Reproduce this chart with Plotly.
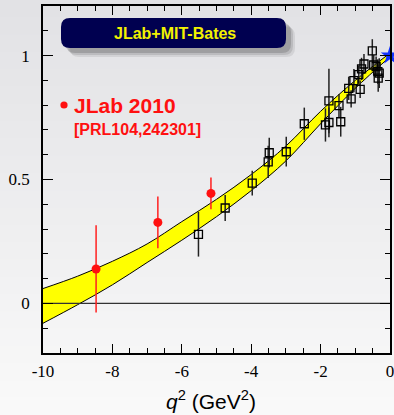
import plotly.graph_objects as go

# ---- data ----
band_q = [-10, -9, -8, -7, -6, -5, -4, -3, -2, -1, 0]
band_upper = [0.06, 0.11, 0.17, 0.24, 0.33, 0.42, 0.52, 0.635, 0.775, 0.90, 1.01]
band_lower = [-0.08, -0.005, 0.075, 0.165, 0.255, 0.35, 0.455, 0.575, 0.725, 0.868, 0.995]

jlab_q = [-8.47, -6.69, -5.16]
jlab_f = [0.139, 0.327, 0.444]
jlab_err = [0.176, 0.104, 0.064]

world_q = [-5.52, -4.75, -3.97, -3.51, -3.48, -2.99, -2.47, -1.86, -1.76, -1.76,
           -1.47, -1.42, -1.19, -1.12, -1.04, -0.90, -0.86, -0.82, -0.75, -0.51,
           -0.47, -0.40, -0.35, -0.34, -0.31]
world_f = [0.279, 0.385, 0.485, 0.571, 0.608, 0.612, 0.725, 0.720, 0.730, 0.817,
           0.798, 0.733, 0.868, 0.825, 0.899, 0.923, 0.864, 0.946, 0.966, 1.019,
           0.962, 0.956, 0.935, 0.909, 0.929]
world_err = [0.09, 0.052, 0.05, 0.065, 0.06, 0.06, 0.065, 0.067, 0.06, 0.13,
             0.047, 0.06, 0.047, 0.035, 0.047, 0.037, 0.035, 0.045, 0.04, 0.047,
             0.04, 0.04, 0.05, 0.055, 0.06]

norm_q = [0]
norm_f = [1.0]

x_ticks = [-10, -8, -6, -4, -2, 0]
x_tick_labels = ["-10", "-8", "-6", "-4", "-2", "0"]
y_ticks = [0, 0.5, 1]
y_tick_labels = ["0", "0.5", "1"]

fig = go.Figure()

# background gradient (paper coordinates, behind everything)
W, H = 394, 415
L, R, T, B = 43, 4, 6, 62
pw, ph = W - L - R, H - T - B
nb = 24
top_c = (226, 226, 229)
bot_c = (249, 249, 249)
for i in range(nb):
    f = i / (nb - 1)
    c = tuple(int(round(top_c[k] + (bot_c[k] - top_c[k]) * f)) for k in range(3))
    y_top_px = i * H / nb
    y_bot_px = (i + 1) * H / nb + 1
    fig.add_shape(type="rect", xref="paper", yref="paper",
                  x0=-L / pw, x1=(W - L) / pw,
                  y0=(H - B - y_bot_px) / ph, y1=(H - B - y_top_px) / ph,
                  fillcolor="rgb(%d,%d,%d)" % c, line_width=0, layer="below")

# band
fig.add_trace(go.Scatter(x=band_q, y=band_lower, mode="lines",
                         line=dict(color="black", width=1, shape="spline"),
                         hoverinfo="skip", showlegend=False))
fig.add_trace(go.Scatter(x=band_q, y=band_upper, mode="lines", fill="tonexty",
                         fillcolor="#ffff00",
                         line=dict(color="black", width=1, shape="spline"),
                         hoverinfo="skip", showlegend=False))
# zero line
fig.add_trace(go.Scatter(x=[-10, 0], y=[0, 0], mode="lines",
                         line=dict(color="#333333", width=1.3),
                         hoverinfo="skip", showlegend=False))

# world data
fig.add_trace(go.Scatter(x=world_q, y=world_f, mode="markers",
                         marker=dict(symbol="square-open", size=8, color="black",
                                     line=dict(width=1.3, color="black")),
                         error_y=dict(type="data", array=world_err, color="#222222",
                                      thickness=1.5, width=0),
                         showlegend=False))
# JLab 2010
fig.add_trace(go.Scatter(x=jlab_q, y=jlab_f, mode="markers",
                         marker=dict(symbol="circle", size=9, color="#ff1010"),
                         error_y=dict(type="data", array=jlab_err, color="#ff2020",
                                      thickness=1.5, width=0),
                         showlegend=False))
# normalisation point
fig.add_trace(go.Scatter(x=norm_q, y=norm_f, mode="markers", cliponaxis=False,
                         marker=dict(symbol="star", size=14, color="#1030ff"),
                         showlegend=False))


def px2paper(px, py):
    return (px - L) / pw, (H - B - py) / ph


def rrect(x0, y0, x1, y1, r):
    def P(px, py):
        a, b = px2paper(px, py)
        return "%.5f,%.5f" % (a, b)
    return ("M " + P(x0 + r, y0) + " L " + P(x1 - r, y0) + " Q " + P(x1, y0) + " " + P(x1, y0 + r) +
            " L " + P(x1, y1 - r) + " Q " + P(x1, y1) + " " + P(x1 - r, y1) +
            " L " + P(x0 + r, y1) + " Q " + P(x0, y1) + " " + P(x0, y1 - r) +
            " L " + P(x0, y0 + r) + " Q " + P(x0, y0) + " " + P(x0 + r, y0) + " Z")


# title box shadow
for d, op in [(9, 0.10), (7, 0.15), (5, 0.22)]:
    fig.add_shape(type="path", xref="paper", yref="paper",
                  path=rrect(61 + d, 18 + d, 286 + d, 48 + d, 9),
                  fillcolor="rgba(60,60,60,%.2f)" % op, line_width=0, layer="above")
fig.add_shape(type="path", xref="paper", yref="paper",
              path=rrect(61, 18, 286, 48, 9),
              fillcolor="#000050", line_width=0, layer="above")

bx, by = px2paper(175, 33)
fig.add_annotation(x=bx, y=by, xref="paper", yref="paper", showarrow=False,
                   text="<b>JLab+MIT-Bates</b>", xanchor="center", yanchor="middle",
                   font=dict(family="Liberation Sans", size=16, color="#f2f200"))

# legend marker + text
cx, cy = px2paper(64, 105)
rr = 3.6 / pw
fig.add_shape(type="circle", xref="paper", yref="paper",
              x0=cx - rr, x1=cx + rr, y0=cy - rr, y1=cy + rr,
              fillcolor="#ff1010", line_width=0)
tx, ty = px2paper(72, 105)
fig.add_annotation(x=tx, y=ty, xref="paper", yref="paper", showarrow=False,
                   text="<b>JLab 2010</b>", xanchor="left", yanchor="middle",
                   font=dict(family="Liberation Sans", size=21, color="#ff1010"))
tx2, ty2 = px2paper(72, 129)
fig.add_annotation(x=tx2, y=ty2, xref="paper", yref="paper", showarrow=False,
                   text="<b>[PRL104,242301]</b>", xanchor="left", yanchor="middle",
                   font=dict(family="Liberation Sans", size=16, color="#ff1010"))

# x title
ax, ay = px2paper(211, 400)
fig.add_annotation(x=ax, y=ay, xref="paper", yref="paper", showarrow=False,
                   text="<i>q</i><sup>2</sup> (GeV<sup>2</sup>)", xanchor="center", yanchor="middle",
                   font=dict(family="Liberation Sans", size=21, color="black"))

fig.update_xaxes(range=[-10, 0], tickvals=x_ticks, ticktext=x_tick_labels, automargin=False,
                 ticks="inside", ticklen=9, tickwidth=1.3, tickcolor="black",
                 ticklabeloverflow="allow", ticklabelstandoff=2,
                 minor=dict(dtick=0.5, ticks="inside", ticklen=5, tickwidth=1.3, tickcolor="black"),
                 showline=True, linecolor="black", linewidth=1.5, mirror="ticks",
                 showgrid=False, zeroline=False,
                 tickfont=dict(family="Liberation Serif", size=17, color="black"))
fig.update_yaxes(range=[-0.2, 1.2], tickvals=y_ticks, ticktext=y_tick_labels, automargin=False,
                 ticks="inside", ticklen=10, tickwidth=1.3, tickcolor="black",
                 ticklabeloverflow="allow", ticklabelstandoff=8,
                 minor=dict(dtick=0.1, tick0=0, ticks="inside", ticklen=5, tickwidth=1.3, tickcolor="black"),
                 showline=True, linecolor="black", linewidth=1.5, mirror="ticks",
                 showgrid=False, zeroline=False,
                 tickfont=dict(family="Liberation Serif", size=17, color="black"))

fig.update_layout(width=W, height=H, margin=dict(l=L, r=R, t=T, b=B, autoexpand=False),
                  paper_bgcolor="rgba(0,0,0,0)", plot_bgcolor="rgba(0,0,0,0)",
                  showlegend=False)

fig.write_html("out.html", config={"displayModeBar": False},
               post_script="document.body.style.margin='0px';document.body.style.overflow='hidden';")
